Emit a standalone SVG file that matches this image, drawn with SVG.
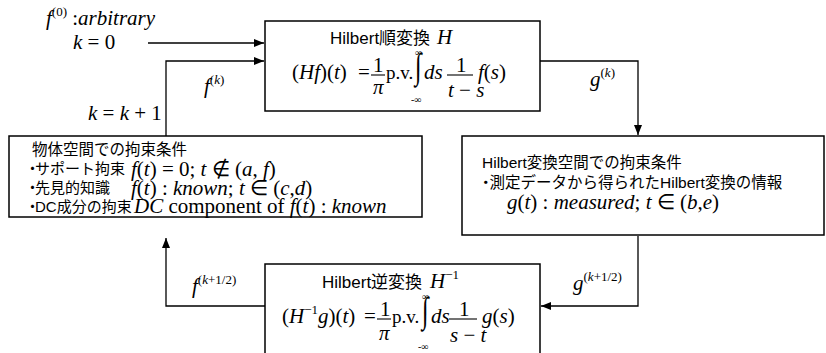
<svg xmlns="http://www.w3.org/2000/svg" width="826" height="353" viewBox="0 0 826 353">
  <defs>
    <marker id="ah" viewBox="0 0 10 8" refX="10" refY="4" markerWidth="10" markerHeight="8" markerUnits="userSpaceOnUse" orient="auto">
      <path d="M0,0 L10,4 L0,8 Z" fill="#000"/>
    </marker>
  </defs>
  <style>
    .box{fill:#fff;stroke:#000;stroke-width:1.5}
    .wire{fill:none;stroke:#000;stroke-width:1.3}
    .bar{stroke:#000;stroke-width:1.1}
    .jp{font-family:"Liberation Sans","Noto Sans CJK JP",sans-serif;font-size:15.5px;fill:#000}
    .sm{font-size:15px}
    .tt{font-size:17px}
    .m{font-family:"Liberation Serif","Times New Roman",serif;font-size:21px;fill:#000}
    .pv{font-size:19px}
    .it{font-style:italic}
    .up{font-style:normal}
    .sup{font-size:13px}
    .lim{font-family:"Liberation Serif",serif;font-size:10px;fill:#000}
    .int{font-family:"Liberation Serif",serif;font-size:24px;fill:#000}
  </style>
  <rect width="826" height="353" fill="#fff"/>

  <!-- loop connectors and their labels -->
  <g id="connectors">
    <path class="wire" d="M148,43 H264" marker-end="url(#ah)"/>
    <path class="wire" d="M166,136 V61 H264" marker-end="url(#ah)"/>
    <path class="wire" d="M540,61 H638 V135" marker-end="url(#ah)"/>
    <path class="wire" d="M638,236 V306 H541" marker-end="url(#ah)"/>
    <path class="wire" d="M265,306 H166 V238" marker-end="url(#ah)"/>

    <text class="m" x="46" y="25"><tspan class="it">f</tspan><tspan class="sup" dy="-9">(0)</tspan><tspan dy="9"> :</tspan><tspan class="it">arbitrary</tspan></text>
    <text class="m" x="73" y="49"><tspan class="it">k</tspan> = 0</text>
    <text class="m" x="204" y="93"><tspan class="it">f</tspan><tspan class="sup" dy="-9">(<tspan class="it">k</tspan>)</tspan></text>
    <text class="m" x="88" y="120"><tspan class="it">k</tspan> = <tspan class="it">k</tspan> + 1</text>
    <text class="m" x="590" y="86"><tspan class="it">g</tspan><tspan class="sup" dy="-9">(<tspan class="it">k</tspan>)</tspan></text>
    <text class="m" x="192" y="293"><tspan class="it">f</tspan><tspan class="sup" dy="-9">(<tspan class="it">k</tspan>+1/2)</tspan></text>
    <text class="m" x="573" y="290"><tspan class="it">g</tspan><tspan class="sup" dy="-9">(<tspan class="it">k</tspan>+1/2)</tspan></text>
  </g>

  <!-- forward Hilbert transform -->
  <g id="forward-transform">
    <rect class="box" x="265" y="21" width="275" height="90"/>
    <text class="jp tt" x="330" y="44">Hilbert順変換</text>
    <text class="m it" x="437" y="44">H</text>
    <text class="m" x="292" y="79">(<tspan class="it">Hf</tspan>)(<tspan class="it">t</tspan>)</text>
    <text class="m" x="358" y="79">=</text>
    <text class="m" x="373" y="72">1</text>
    <line class="bar" x1="371" y1="75" x2="385" y2="75"/>
    <text class="m it" x="373" y="94">π</text>
    <text class="m pv" x="386" y="79">p.v.</text>
    <text class="int" transform="translate(415,78) scale(1,1.5)">∫</text>
    <text class="lim" x="415" y="56">∞</text>
    <text class="lim" x="411" y="103">-∞</text>
    <text class="m it" x="424" y="79">ds</text>
    <text class="m" x="456" y="72">1</text>
    <line class="bar" x1="447" y1="75" x2="473" y2="75"/>
    <text class="m it" x="448" y="97">t <tspan class="up">−</tspan> s</text>
    <text class="m" x="478" y="79"><tspan class="it">f</tspan>(<tspan class="it">s</tspan>)</text>
  </g>

  <!-- constraints in Hilbert-transform space -->
  <g id="hilbert-constraints">
    <rect class="box" x="462" y="136" width="362" height="99"/>
    <text class="jp" x="482" y="168">Hilbert変換空間での拘束条件</text>
    <text class="jp" x="478" y="188">・<tspan dx="-4">測定データから得られたHilbert変換の情報</tspan></text>
    <text class="m" x="507" y="209"><tspan class="it">g</tspan>(<tspan class="it">t</tspan>) : <tspan class="it">measured</tspan>; <tspan class="it">t</tspan> ∈ (<tspan class="it">b</tspan>,<tspan class="it">e</tspan>)</text>
  </g>

  <!-- constraints in object space -->
  <g id="object-constraints">
    <rect class="box" x="9" y="136" width="413" height="81"/>
    <text class="jp" x="32" y="155">物体空間での拘束条件</text>
    <text class="jp sm" x="25" y="174">・<tspan dx="-5">サポート拘束</tspan></text>
    <text class="jp sm" x="25" y="193">・<tspan dx="-5">先見的知識</tspan></text>
    <text class="jp sm" x="25" y="212">・<tspan dx="-5">DC成分の拘束</tspan></text>
    <text class="m" x="131" y="176"><tspan class="it">f</tspan>(<tspan class="it">t</tspan>) = 0; <tspan class="it">t</tspan> ∉ (<tspan class="it">a</tspan>, <tspan class="it">f</tspan>)</text>
    <text class="m" x="131" y="195"><tspan class="it">f</tspan>(<tspan class="it">t</tspan>) : <tspan class="it">known</tspan>; <tspan class="it">t</tspan> ∈ (<tspan class="it">c</tspan>,<tspan class="it">d</tspan>)</text>
    <text class="m" x="134" y="213"><tspan class="it">DC</tspan> component of <tspan class="it">f</tspan>(<tspan class="it">t</tspan>) : <tspan class="it">known</tspan></text>
  </g>

  <!-- inverse Hilbert transform -->
  <g id="inverse-transform">
    <rect class="box" x="265" y="264" width="275" height="100"/>
    <text class="jp tt" x="322" y="288">Hilbert逆変換</text>
    <text class="m" x="430" y="288"><tspan class="it">H</tspan><tspan class="sup" dy="-9">−1</tspan></text>
    <text class="m" x="282" y="323">(<tspan class="it">H</tspan><tspan class="sup" dy="-9">−1</tspan><tspan class="it" dy="9">g</tspan>)(<tspan class="it">t</tspan>)</text>
    <text class="m" x="364" y="323">=</text>
    <text class="m" x="380" y="316">1</text>
    <line class="bar" x1="377" y1="319" x2="391" y2="319"/>
    <text class="m it" x="379" y="340">π</text>
    <text class="m pv" x="392" y="323">p.v.</text>
    <text class="int" transform="translate(422,322) scale(1,1.5)">∫</text>
    <text class="lim" x="422" y="300">∞</text>
    <text class="lim" x="418" y="350">-∞</text>
    <text class="m it" x="431" y="323">ds</text>
    <text class="m" x="459" y="316">1</text>
    <line class="bar" x1="449" y1="319" x2="477" y2="319"/>
    <text class="m it" x="450" y="342">s <tspan class="up">−</tspan> t</text>
    <text class="m" x="482" y="323"><tspan class="it">g</tspan>(<tspan class="it">s</tspan>)</text>
  </g>
</svg>
